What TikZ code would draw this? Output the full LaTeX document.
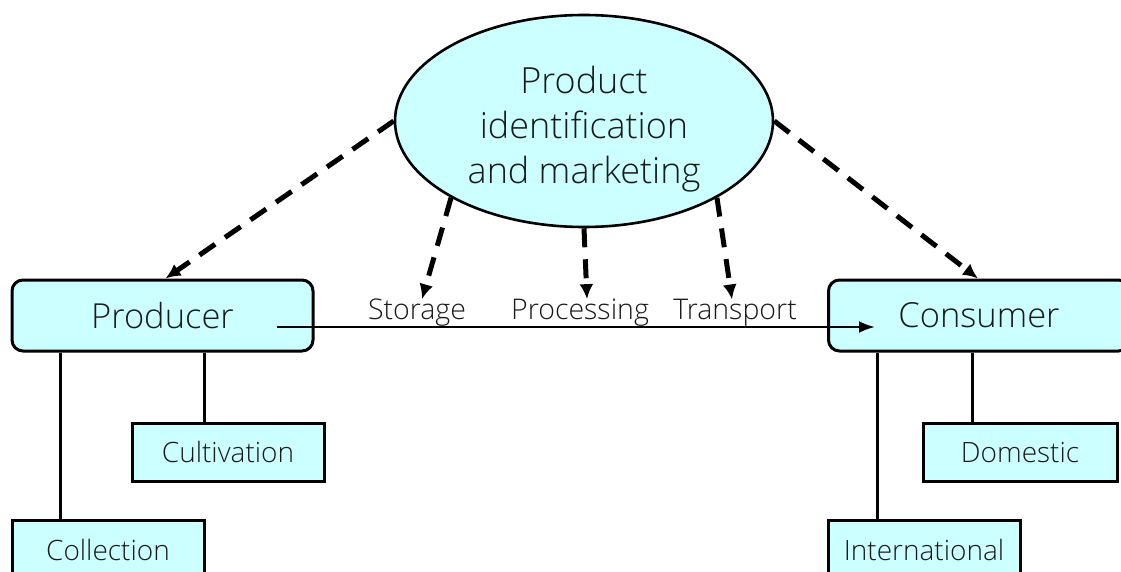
\documentclass[tikz,border=0pt]{standalone}
\usepackage{fontspec}
\setmainfont{Open Sans}[UprightFont=* Light]
\usetikzlibrary{shapes.geometric,arrows.meta,calc}
\definecolor{boxfill}{HTML}{CCFFFF}
\definecolor{txt}{HTML}{1A1A1A}
\begin{document}
\begin{tikzpicture}[x=1pt,y=-1pt,
  mainbox/.style={draw,line width=3pt,fill=boxfill,rounded corners=11pt,minimum width=301pt,minimum height=71pt,inner sep=0pt,text=txt,font=\fontsize{34.5}{40}\selectfont},
  subbox/.style={draw,line width=3pt,fill=boxfill,minimum width=192pt,minimum height=58pt,inner sep=0pt,text=txt,font=\fontsize{28}{32}\selectfont},
  lbl/.style={inner sep=0pt,text=txt,font=\fontsize{28.5}{32}\selectfont},
  dasharrow/.style={line width=5pt,dash pattern=on 19pt off 12pt,-{Latex[length=15pt,width=14pt]}},
  link/.style={line width=3pt}]
\useasboundingbox (0,0) rectangle (1121,572);
\node[ellipse,draw,line width=2.6pt,fill=boxfill,minimum width=378pt,minimum height=212pt,inner sep=0pt,text=txt,font=\fontsize{36}{45}\selectfont] (ell) at (584,121) {\raisebox{-9pt}[\height][\depth]{\begin{tabular}{@{}c@{}}Product\\identification\\and marketing\end{tabular}}};
\node[mainbox] (prod) at (162.5,315.5) {Producer};
\node[mainbox] (cons) at (979,315.5) {Consumer};
\node[subbox,minimum height=60pt] (coll) at (108,550) {Collection};
\node[subbox] (cult) at (228,452) {Cultivation};
\node[subbox,minimum width=194pt] (dom) at (1020,452) {Domestic};
\node[subbox,minimum height=60pt] (intl) at (924,550) {International};
\node[lbl,anchor=base] (stor) at (417,319) {Storage};
\node[lbl,anchor=base] (proc) at (580,319) {Processing};
\node[lbl,anchor=base] (trans) at (735,319) {Transport};
% dashed arrows
\draw[dasharrow] (ell.180) -- ([xshift=3pt]prod.north);
\draw[dasharrow] (ell.0) -- ([xshift=-1pt]cons.north);
\draw[dasharrow] (ell.210) -- ([xshift=5pt,yshift=-1pt]stor.north);
\draw[dasharrow] (ell.270) -- ([xshift=7pt,yshift=-1pt]proc.north);
\draw[dasharrow] (ell.330) -- ([xshift=-3pt,yshift=-1pt]trans.north);
% main arrow
\draw[line width=2.4pt,-{Latex[length=16pt,width=12pt]}] ($(prod.center)+(114,11.5)$) -- ($(cons.center)+(-104,11.5)$);
% tree links
\draw[link] ([xshift=-48pt]coll.north) -- ([xshift=-48pt]coll.north |- prod.south);
\draw[link] ([xshift=-24pt]cult.north) -- ([xshift=-24pt]cult.north |- prod.south);
\draw[link] ([xshift=-48pt]dom.north) -- ([xshift=-48pt]dom.north |- cons.south);
\draw[link] ([xshift=-47pt]intl.north) -- ([xshift=-47pt]intl.north |- cons.south);
\end{tikzpicture}
\end{document}
